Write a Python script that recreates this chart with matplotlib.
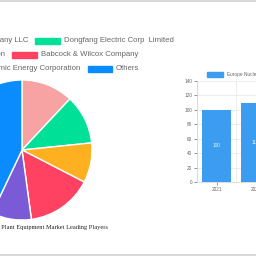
import matplotlib
matplotlib.use("Agg")
import matplotlib.pyplot as plt
from matplotlib.patches import Rectangle
from matplotlib.lines import Line2D

# ---- data ----
players = ["Westinghouse Electric Company LLC", "Dongfang Electric Corp  Limited",
           "Toshiba Energy Systems & Solutions Corporation", "Babcock & Wilcox Company",
           "Rosatom State Atomic Energy Corporation", "Others"]
shares = [12, 11.4, 9.2, 15.3, 9.2, 43]
pie_colors = ["#f7a3a3", "#00e096", "#ffb020", "#ff4262", "#7a5ad6", "#0a8cff"]
pie_title = "Europe Nuclear Power Plant Equipment Market Leading Players"

years = ["2021", "2022"]
market = [100, 110]
bar_label = "Europe Nuclear Power Plant Equipment Market"
bar_color = "#3b9cf0"

W = H = 256
fig = plt.figure(figsize=(2.56, 2.56), dpi=100)

def fx(x): return x / W
def fy(y): return 1 - y / H

# top / bottom rules
fig.add_artist(Line2D([0, 1], [fy(0.5), fy(0.5)], color="#d8d8d8", lw=1.5))
fig.add_artist(Line2D([0, 1], [fy(255), fy(255)], color="#d8d8d8", lw=1.5))

# ---- pie ----
cx, cy, r = 22, 150, 70
axp = fig.add_axes([fx(cx - r), fy(cy + r), 2 * r / W, 2 * r / H])
axp.pie(shares, colors=pie_colors, startangle=90, counterclock=False, radius=1,
        wedgeprops=dict(edgecolor="white", linewidth=1))
axp.set_xlim(-1, 1); axp.set_ylim(-1, 1)
axp.set_aspect("equal")
axp.axis("off")
fig.text(fx(108), fy(227), pie_title, ha="right", va="center",
         family="Liberation Serif", fontsize=4.6, color="#222")

# ---- pie legend ----
fs = 5.6
rows = [(41, (None, 28), (35, 60)), (55, (None, 5), (12, 37)), (69, (None, 80), (88, 112))]
for i, (y, (_, lend), (b0, b1)) in enumerate(rows):
    left_name = players[2 * i]
    right_name = players[2 * i + 1]
    fig.text(fx(lend), fy(y), left_name, ha="right", va="center",
             family="Liberation Sans", fontsize=fs, color="#666")
    fig.add_artist(Rectangle((fx(b0), fy(y + 3)), (b1 - b0) / W, 6 / H,
                             color=pie_colors[2 * i + 1], transform=fig.transFigure))
    fig.text(fx(b1 + 4), fy(y), right_name, ha="left", va="center",
             family="Liberation Sans", fontsize=fs, color="#666")

# ---- bar chart ----
cat_w = 39
x0, ytop, ybot = 197, 81, 182
axb = fig.add_axes([fx(x0), fy(ybot), cat_w * len(years) / W, (ybot - ytop) / H])
xs = list(range(len(years)))
bars = axb.bar(xs, market, width=0.72, color=bar_color)
for b, v in zip(bars, market):
    axb.text(b.get_x() + b.get_width() / 2, v / 2, str(v), ha="center", va="center",
             fontsize=3.4, color="#e8f2ff", family="Liberation Sans")
axb.set_ylim(0, 140)
axb.set_xlim(-0.5, len(years) - 0.5)
axb.set_yticks(range(0, 141, 20))
axb.set_xticks(xs)
axb.set_xticklabels(years)
axb.tick_params(labelsize=3.4, colors="#666", length=2, width=0.5, pad=1.5)
for t in axb.get_xticklabels() + axb.get_yticklabels():
    t.set_family("Liberation Sans")
for v in range(0, 141, 20):
    axb.axhline(v, color="#e6e6e6", lw=0.5, zorder=0)
for k in range(len(years) + 1):
    axb.axvline(k - 0.5, color="#e6e6e6", lw=0.5, zorder=0)
for s in ["top", "right"]:
    axb.spines[s].set_visible(False)
axb.spines["left"].set_color("#d0d0d0"); axb.spines["left"].set_linewidth(0.5)
axb.spines["bottom"].set_color("#d0d0d0"); axb.spines["bottom"].set_linewidth(0.5)

# bar legend
fig.add_artist(Rectangle((fx(207), fy(77)), 16 / W, 5 / H, color=bar_color,
                         transform=fig.transFigure))
fig.text(fx(227), fy(74.5), bar_label, ha="left", va="center",
         family="Liberation Sans", fontsize=3.4, color="#666")

fig.savefig("out.png", dpi=100)
